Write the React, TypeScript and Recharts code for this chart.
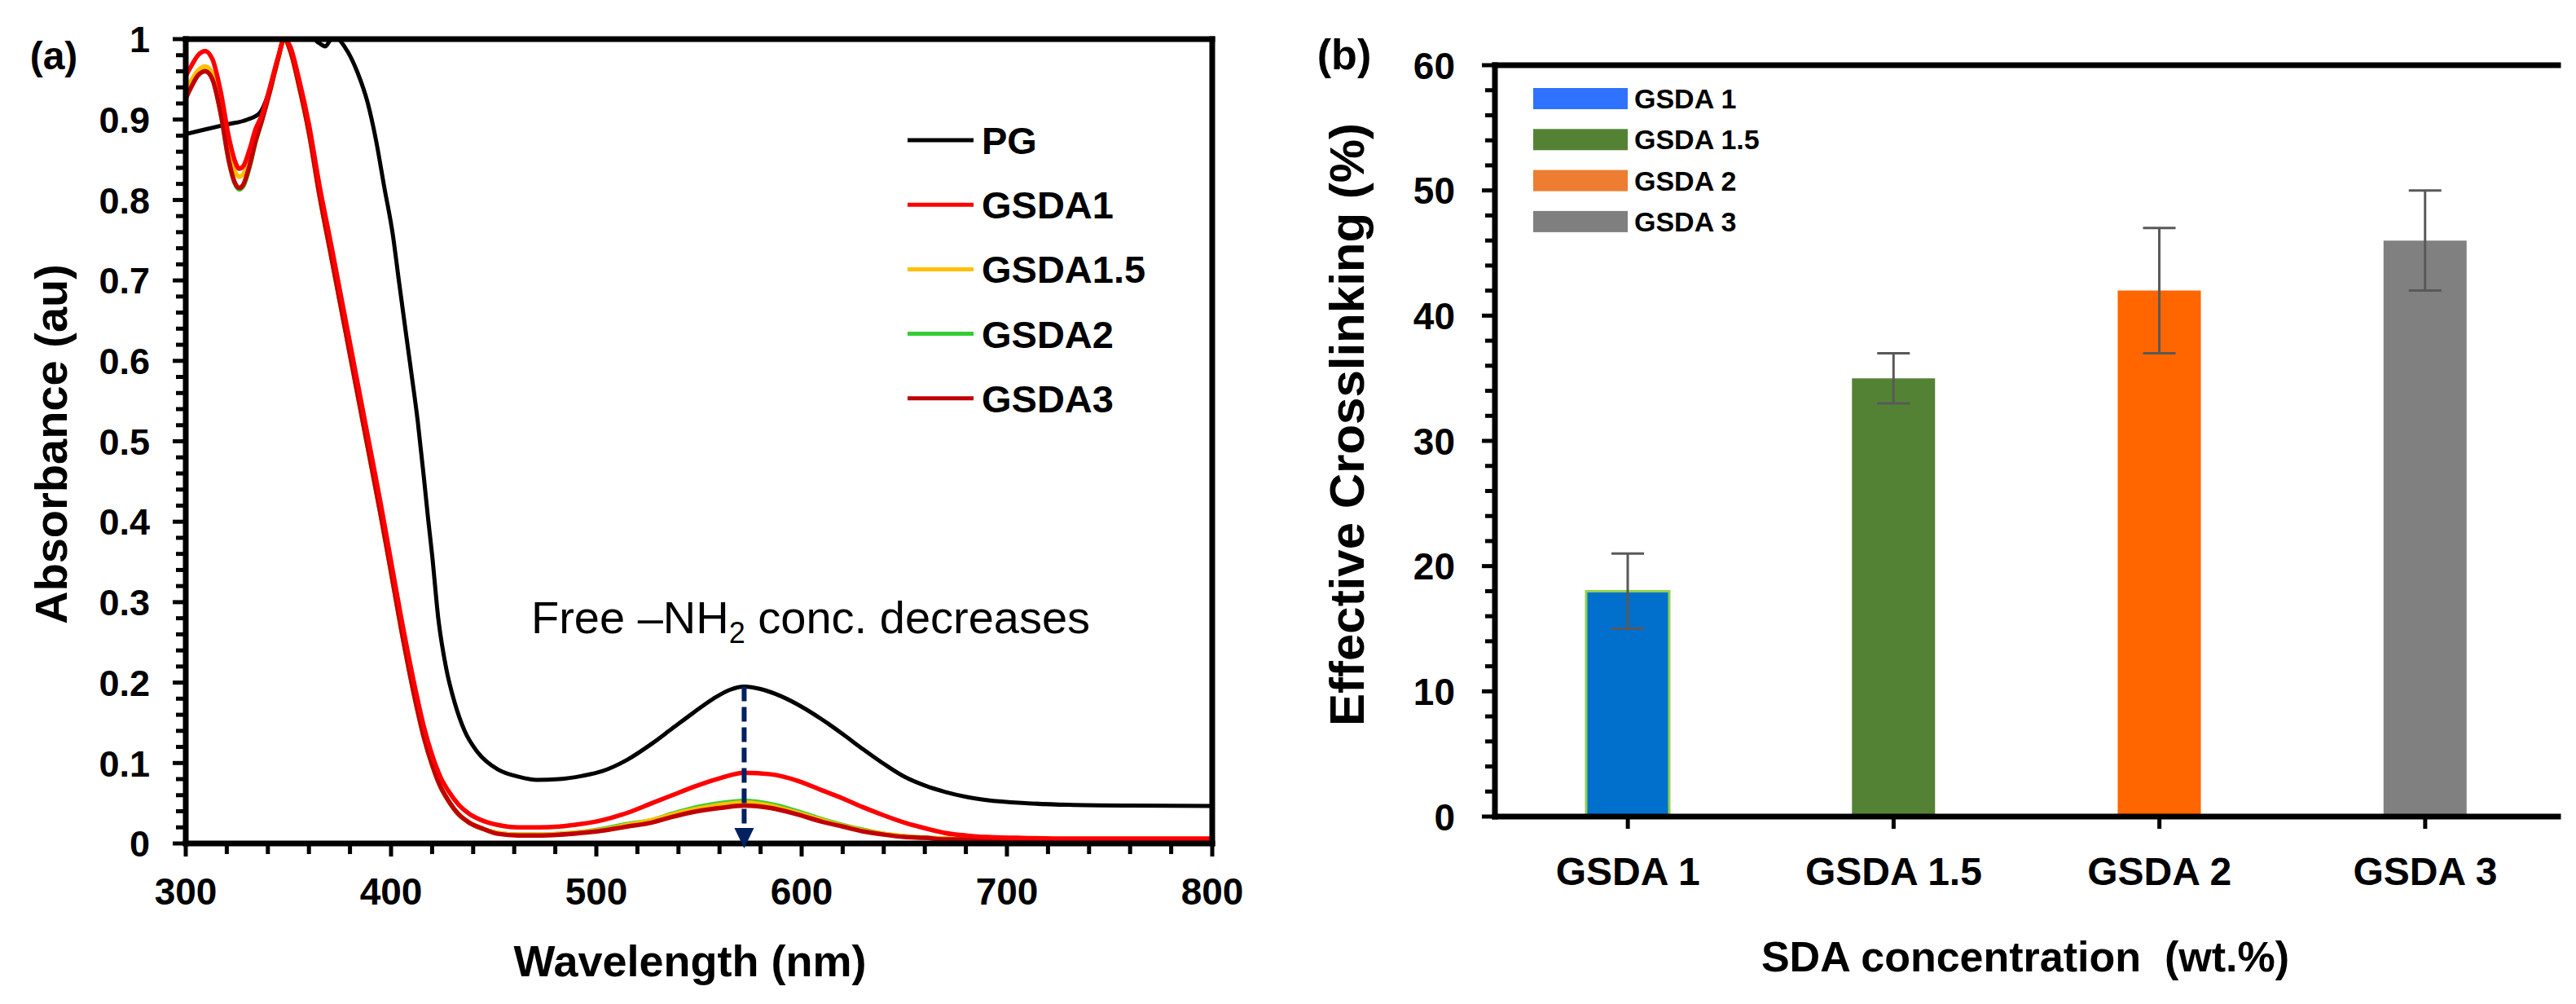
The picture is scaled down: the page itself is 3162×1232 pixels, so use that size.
import React from 'react';
import {
  LineChart, Line, XAxis, YAxis, ReferenceLine, ReferenceDot,
  BarChart, Bar, Cell, ErrorBar,
} from 'recharts';

const FONT = "'Liberation Sans', Arial, Helvetica, sans-serif";

// ---------------- Panel (a) data ----------------
const pgNm = [300, 310, 320, 330, 336, 340, 344, 348, 356, 362, 365, 368, 371, 374, 377.5, 383.6, 388.6, 392.7, 396.7, 400.8, 403.8, 406.9, 410, 413, 416, 418, 420, 423, 427, 431, 436, 442, 452, 462, 471, 482, 493, 503, 515, 527, 537, 547, 557, 565, 572, 580, 590, 600, 610, 620, 630, 640, 650, 660, 670, 680, 690, 710, 730, 760, 800];
const pgAbs = [0.882, 0.888, 0.894, 0.9, 0.908, 0.93, 0.965, 1.0, 1.0, 1.0, 0.995, 0.991, 1.0, 1.0, 0.99, 0.959, 0.921, 0.874, 0.816, 0.758, 0.7, 0.641, 0.583, 0.525, 0.455, 0.405, 0.359, 0.28, 0.216, 0.175, 0.139, 0.114, 0.092, 0.083, 0.079, 0.08, 0.084, 0.09, 0.104, 0.124, 0.143, 0.162, 0.18, 0.191, 0.195, 0.192, 0.183, 0.17, 0.154, 0.136, 0.117, 0.099, 0.083, 0.072, 0.064, 0.058, 0.054, 0.05, 0.048, 0.047, 0.0466];

const g1Nm = [300, 303, 306, 309.5, 313, 317, 321, 324, 326, 328, 331, 334, 337, 341, 345, 348, 351, 355, 360, 365, 371, 377, 383, 389, 395, 399, 405, 412, 416, 420, 424, 428, 433, 438, 445, 452, 462, 472, 482, 492, 503, 515, 527, 537, 547, 560, 572, 585, 598, 610, 620, 630, 640, 650, 660, 670, 680, 690, 705, 730, 800];
const g1Abs = [0.954, 0.968, 0.98, 0.985, 0.975, 0.935, 0.878, 0.848, 0.839, 0.842, 0.862, 0.888, 0.905, 0.94, 0.978, 1.0, 0.99, 0.952, 0.894, 0.82, 0.742, 0.662, 0.582, 0.502, 0.422, 0.365, 0.28, 0.19, 0.145, 0.11, 0.083, 0.065, 0.048, 0.037, 0.028, 0.023, 0.02, 0.02, 0.021, 0.024, 0.029, 0.038, 0.05, 0.06, 0.07, 0.081, 0.088, 0.086, 0.078, 0.066, 0.056, 0.045, 0.035, 0.026, 0.019, 0.013, 0.01, 0.008, 0.007, 0.006, 0.006];

const g15Nm = [300, 303, 306, 309.5, 313, 317, 321, 324, 326, 328, 331, 334, 337, 341, 345, 348, 351, 355, 360, 365, 371, 377, 383, 389, 395, 399, 405, 412, 416, 420, 424, 428, 433, 438, 445, 452, 462, 472, 482, 492, 503, 515, 527, 537, 547, 560, 572, 585, 598, 610, 620, 630, 640, 650, 660, 670, 680, 800];
const g15Abs = [0.936, 0.95, 0.961, 0.966, 0.957, 0.918, 0.862, 0.835, 0.829, 0.832, 0.853, 0.881, 0.901, 0.937, 0.976, 1.0, 0.985, 0.944, 0.884, 0.808, 0.728, 0.648, 0.568, 0.488, 0.408, 0.352, 0.266, 0.176, 0.132, 0.098, 0.071, 0.053, 0.036, 0.026, 0.018, 0.013, 0.011, 0.011, 0.012, 0.014, 0.017, 0.023, 0.029, 0.036, 0.042, 0.048, 0.051, 0.047, 0.038, 0.029, 0.022, 0.016, 0.012, 0.009, 0.007, 0.006, 0.005, 0.005];

const g2Nm = [300, 303, 306, 309.5, 313, 317, 321, 324, 326, 328, 331, 334, 337, 341, 345, 348, 351, 355, 360, 365, 371, 377, 383, 389, 395, 399, 405, 412, 416, 420, 424, 428, 433, 438, 445, 452, 462, 472, 482, 492, 503, 515, 527, 537, 547, 560, 572, 585, 598, 610, 620, 630, 640, 650, 660, 670, 680, 800];
const g2Abs = [0.928, 0.944, 0.956, 0.961, 0.951, 0.908, 0.848, 0.82, 0.813, 0.817, 0.84, 0.872, 0.898, 0.935, 0.976, 1.0, 0.985, 0.944, 0.884, 0.808, 0.728, 0.648, 0.568, 0.488, 0.408, 0.352, 0.266, 0.176, 0.132, 0.098, 0.071, 0.053, 0.036, 0.026, 0.018, 0.013, 0.011, 0.011, 0.012, 0.014, 0.018, 0.024, 0.029, 0.037, 0.044, 0.05, 0.053, 0.049, 0.04, 0.03, 0.023, 0.017, 0.012, 0.009, 0.007, 0.006, 0.005, 0.004];

const g3Nm = [300, 303, 306, 309.5, 313, 317, 321, 324, 326, 328, 331, 334, 337, 341, 345, 348, 351, 355, 360, 365, 371, 377, 383, 389, 395, 399, 405, 412, 416, 420, 424, 428, 433, 438, 445, 452, 462, 472, 482, 492, 503, 515, 527, 537, 547, 560, 572, 585, 598, 610, 620, 630, 640, 650, 660, 670, 680, 800];
const g3Abs = [0.926, 0.942, 0.955, 0.96, 0.95, 0.908, 0.849, 0.821, 0.815, 0.819, 0.842, 0.873, 0.898, 0.935, 0.976, 1.0, 0.985, 0.944, 0.884, 0.808, 0.728, 0.648, 0.568, 0.488, 0.408, 0.352, 0.266, 0.176, 0.132, 0.098, 0.071, 0.053, 0.036, 0.026, 0.018, 0.012, 0.01, 0.01, 0.011, 0.013, 0.016, 0.021, 0.026, 0.033, 0.039, 0.044, 0.047, 0.044, 0.036, 0.027, 0.021, 0.015, 0.011, 0.008, 0.007, 0.005, 0.005, 0.004];

const absMajorTicks = [0, 0.1, 0.2, 0.3, 0.4, 0.5, 0.6, 0.7, 0.8, 0.9, 1];
const absMajorLabels = ['0', '0.1', '0.2', '0.3', '0.4', '0.5', '0.6', '0.7', '0.8', '0.9', '1'];
const nmMajorTicks = [300, 400, 500, 600, 700, 800];
const nmMajorLabels = ['300', '400', '500', '600', '700', '800'];

const arrowNm = 572;
const arrowTop = 0.195;
const arrowBottom = 0.02;

// ---------------- Panel (b) data ----------------
const sdaCategories = ['GSDA 1', 'GSDA 1.5', 'GSDA 2', 'GSDA 3'];
const crosslinking = [18, 35, 42, 46];
const crosslinkingErr = [3, 2, 5, 4];
const barColors = ['#0070CC', '#548235', '#FF6600', '#808080'];
const legendBColors = ['#2F72FF', '#548235', '#ED7D31', '#7F7F7F'];
const crossMajorTicks = [0, 10, 20, 30, 40, 50, 60];
const crossMajorLabels = ['0', '10', '20', '30', '40', '50', '60'];

const seriesA = [
  { name: 'PG', color: '#000000', nm: pgNm, abs: pgAbs, w: 5 },
  { name: 'GSDA1', color: '#FF0000', nm: g1Nm, abs: g1Abs, w: 5.5 },
  { name: 'GSDA1.5', color: '#FFC000', nm: g15Nm, abs: g15Abs, w: 5.5 },
  { name: 'GSDA2', color: '#33CC33', nm: g2Nm, abs: g2Abs, w: 5.5 },
  { name: 'GSDA3', color: '#C00000', nm: g3Nm, abs: g3Abs, w: 5.5 },
];
const drawOrder = [0, 3, 2, 4, 1];

const zip = (xs: number[], ys: number[]) => xs.map((x, i) => ({ nm: x, v: ys[i] }));

const range = (a: number, b: number, step: number) => {
  const out: number[] = [];
  const n = Math.round((b - a) / step);
  for (let i = 0; i <= n; i++) out.push(Math.round((a + i * step) * 1000) / 1000);
  return out;
};

const absTicks = range(0, 1, 0.02);
const nmTicks = range(300, 800, 20);
const crossTicks = range(0, 60, 2);

const findMajor = (v: number, majors: number[]) =>
  majors.findIndex((m) => Math.abs(m - v) < 1e-6);

const LeftTick = (majors: number[], labels: string[], fs: number, gap: number) => (props: any) => {
  const { x, y, payload } = props;
  const idx = findMajor(payload.value, majors);
  const major = idx >= 0;
  return (
    <g>
      <line x1={x} x2={x - (major ? 16 : 12)} y1={y} y2={y} stroke="#000" strokeWidth={5} />
      {major && (
        <text x={x - gap} y={y + fs * 0.36} textAnchor="end" fontSize={fs} fontWeight="bold" fontFamily={FONT} fill="#000">
          {labels[idx]}
        </text>
      )}
    </g>
  );
};

const BottomTick = (majors: number[], labels: string[]) => (props: any) => {
  const { x, y, payload } = props;
  const idx = findMajor(payload.value, majors);
  const major = idx >= 0;
  return (
    <g>
      <line x1={x} x2={x} y1={y} y2={y + (major ? 16 : 13)} stroke="#000" strokeWidth={5} />
      {major && (
        <text x={x} y={y + 75} textAnchor="middle" fontSize={46} fontWeight="bold" fontFamily={FONT} fill="#000">
          {labels[idx]}
        </text>
      )}
    </g>
  );
};

const CatTick = (props: any) => {
  const { x, y, payload } = props;
  return (
    <g>
      <line x1={x} x2={x} y1={y} y2={y + 15} stroke="#000" strokeWidth={5} />
      <text x={x} y={y + 84} textAnchor="middle" fontSize={48} fontWeight="bold" fontFamily={FONT} fill="#000">
        {payload.value}
      </text>
    </g>
  );
};

const ArrowHead = (p: any) => (
  <path d={`M${p.cx - 12},${p.cy - 19} L${p.cx + 12},${p.cy - 19} L${p.cx},${p.cy + 6} Z`} fill="#002060" />
);

const barData = sdaCategories.map((c, i) => ({ name: c, value: crosslinking[i], err: crosslinkingErr[i] }));

const axisStyle = { stroke: '#000', strokeWidth: 7, strokeLinecap: 'square' as const };

export default function App() {
  return (
    <div style={{ position: 'absolute', left: 0, top: 0, width: 3162, height: 1232, background: '#fff', overflow: 'hidden' }}>
      <div style={{ position: 'absolute', left: 0, top: 0 }}>
        <LineChart width={1560} height={1232} margin={{ top: 48, right: 72, bottom: 97, left: 78 }}>
          <XAxis
            type="number" dataKey="nm" domain={[300, 800]} ticks={nmTicks} interval={0}
            allowDataOverflow height={100} tickSize={0} tickMargin={0}
            axisLine={axisStyle} tickLine={false} tick={BottomTick(nmMajorTicks, nmMajorLabels)}
          />
          <YAxis
            type="number" domain={[0, 1]} ticks={absTicks} interval={0} allowDataOverflow
            width={150} tickSize={0} tickMargin={0}
            axisLine={axisStyle} tickLine={false} tick={LeftTick(absMajorTicks, absMajorLabels, 45, 44)}
          />
          {drawOrder.map((i) => {
            const s = seriesA[i];
            return (
              <Line
                key={s.name} data={zip(s.nm, s.abs)} dataKey="v" name={s.name} type="monotone"
                stroke={s.color} strokeWidth={s.w} dot={false} activeDot={false} isAnimationActive={false}
              />
            );
          })}
          <ReferenceLine
            segment={[{ x: arrowNm, y: arrowTop }, { x: arrowNm, y: arrowBottom }]}
            stroke="#002060" strokeWidth={6} strokeDasharray="18 7"
          />
          <ReferenceDot x={arrowNm} y={0} shape={ArrowHead} />
          <ReferenceLine y={1} stroke="#000" strokeWidth={7} strokeLinecap="square" />
          <ReferenceLine x={800} stroke="#000" strokeWidth={7} strokeLinecap="square" />
        </LineChart>
      </div>

      <div style={{ position: 'absolute', left: 1560, top: 0 }}>
        <BarChart width={1602} height={1232} data={barData} margin={{ top: 80, right: 22, bottom: 130, left: 75 }}>
          <XAxis
            dataKey="name" type="category" interval={0} height={100} tickSize={0} tickMargin={0}
            axisLine={axisStyle} tickLine={false} tick={CatTick}
          />
          <YAxis
            type="number" domain={[0, 60]} ticks={crossTicks} interval={0} width={200}
            tickSize={0} tickMargin={0} axisLine={axisStyle} tickLine={false}
            tick={LeftTick(crossMajorTicks, crossMajorLabels, 46, 49)}
          />
          <YAxis
            yAxisId="r" orientation="right" type="number" domain={[0, 60]} width={0}
            tick={false} tickLine={false} axisLine={axisStyle}
          />
          <Bar dataKey="value" barSize={102} isAnimationActive={false}>
            {barData.map((d, i) => (
              <Cell key={d.name} fill={barColors[i]} stroke={i === 0 ? '#92D050' : 'none'} strokeWidth={i === 0 ? 3 : 0} />
            ))}
            <ErrorBar dataKey="err" width={20} stroke="#595959" strokeWidth={3} direction="y" />
          </Bar>
          <ReferenceLine y={60} stroke="#000" strokeWidth={7} strokeLinecap="square" />
        </BarChart>
      </div>

      <svg width={3162} height={1232} style={{ position: 'absolute', left: 0, top: 0, pointerEvents: 'none' }} fontFamily={FONT}>
        {/* Panel (a) texts */}
        <text x={66} y={85} textAnchor="middle" fontSize={48} fontWeight="bold">(a)</text>
        <text transform="translate(82,545) rotate(-90)" textAnchor="middle" fontSize={56} fontWeight="bold">Absorbance (au)</text>
        <text x={847} y={1198} textAnchor="middle" fontSize={54} fontWeight="bold">Wavelength (nm)</text>
        <text x={652} y={777} fontSize={56}>
          <tspan>Free –NH</tspan>
          <tspan fontSize={36} dy={12}>2</tspan>
          <tspan dy={-12}> conc. decreases</tspan>
        </text>
        {seriesA.map((s, i) => {
          const cy = 172 + i * 79.2;
          return (
            <g key={s.name}>
              <line x1={1114} x2={1195} y1={cy} y2={cy} stroke={s.color} strokeWidth={5} />
              <text x={1205} y={cy + 17} fontSize={47} fontWeight="bold">{s.name}</text>
            </g>
          );
        })}

        {/* Panel (b) texts */}
        <text x={1650} y={85} textAnchor="middle" fontSize={52} fontWeight="bold">(b)</text>
        <text transform="translate(1674,521) rotate(-90)" textAnchor="middle" fontSize={60} fontWeight="bold">Effective Crosslinking (%)</text>
        <text x={2486} y={1192} textAnchor="middle" fontSize={52} fontWeight="bold" style={{ whiteSpace: 'pre' }}>SDA concentration  (wt.%)</text>
        {sdaCategories.map((c, i) => {
          const cy = 121 + i * 50.3;
          return (
            <g key={c}>
              <rect x={1882} y={cy - 13} width={116} height={26} fill={legendBColors[i]} />
              <text x={2006} y={cy + 12} fontSize={34} fontWeight="bold">{c}</text>
            </g>
          );
        })}
      </svg>
    </div>
  );
}
